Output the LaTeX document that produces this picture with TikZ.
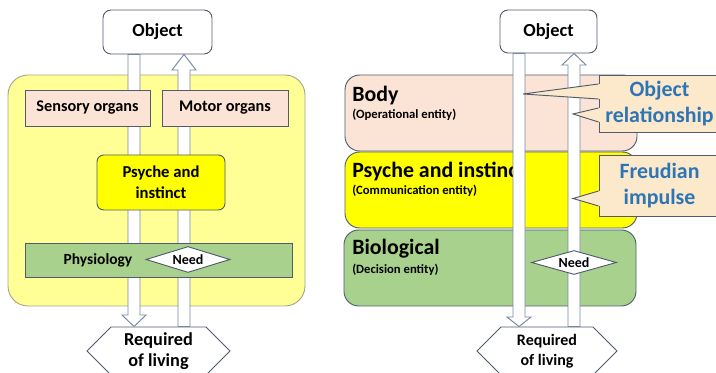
\documentclass[tikz,border=0pt]{standalone}
\usepackage{fontspec}
\setmainfont{Carlito}
\usetikzlibrary{shapes.geometric,shapes.symbols}

\definecolor{lineC}{RGB}{80,92,110}
\definecolor{frameC}{RGB}{165,165,140}
\definecolor{bgYellow}{RGB}{255,255,150}
\definecolor{pinkC}{RGB}{251,228,213}
\definecolor{greenC}{RGB}{169,209,142}
\definecolor{yellowC}{RGB}{255,255,0}
\definecolor{calloutC}{RGB}{252,232,202}
\definecolor{blueT}{RGB}{46,117,182}
\definecolor{arrowC}{RGB}{120,135,160}

\tikzset{
  box/.style={draw=lineC, line width=0.7pt, inner sep=0pt},
  blockarrow/.style={draw=arrowC, fill=white, line width=0.7pt, line join=miter},
  needbox/.style={shape=diamond, draw=lineC, fill=white, line width=0.7pt, inner sep=0pt, aspect=3.2,
    font=\bfseries\fontsize{10.5}{12}\selectfont},
  livingbox/.style={shape=signal, signal to=west and east, signal pointer angle=90, draw=lineC,
    fill=white, line width=0.7pt, inner sep=0pt, align=center},
  layertitle/.style={anchor=west, inner sep=0pt, font=\bfseries\fontsize{16.4}{18}\selectfont},
  layersub/.style={anchor=west, inner sep=0pt, font=\bfseries\fontsize{9.5}{11}\selectfont},
  callout/.style={draw=lineC, fill=calloutC, line width=0.7pt, inner sep=0pt, align=center,
    text=blueT, font=\bfseries\fontsize{16.4}{20}\selectfont},
}

\begin{document}
\begin{tikzpicture}[x=0.75pt,y=0.75pt,yscale=-1,xscale=1]
\useasboundingbox (0,0) rectangle (716,373);
\clip (0,0) rectangle (716,373);

%%%%% left diagram

% Yellow frame
\node[box, draw=frameC, fill=bgYellow, rounded corners=15pt, minimum width=222.75pt, minimum height=173.25pt] (frameL) at (156.5,190.5) {};
% Object
\node[box, fill=white, rounded corners=6pt, minimum width=81.75pt, minimum height=33pt,
  font=\bfseries\fontsize{13.8}{16}\selectfont] (objL) at (157.5,32) {Object};
% Required of living
\node[livingbox, minimum width=107.25pt, minimum height=36pt,
  font=\bfseries\fontsize{13.7}{16}\selectfont] (reqL) at (158.5,351) {Required\\of living};

% Down Arrow
\draw[blockarrow] (128,0 |- objL.south) -- (128,315) -- (122,315) -- (134,0 |- reqL.north)
  -- (146,315) -- (140,315) -- (140,0 |- objL.south) -- cycle;
% Up Arrow
\draw[blockarrow] (178,0 |- reqL.north) -- (178,70) -- (172,70) -- (184,0 |- objL.south)
  -- (196,70) -- (190,70) -- (190,0 |- reqL.north) -- cycle;

% Organs
\node[box, fill=pinkC, minimum width=93.75pt, minimum height=27pt,
  font=\bfseries\fontsize{12.2}{14}\selectfont] (sensory) at (87.5,108) {Sensory organs};
\node[box, fill=pinkC, minimum width=94.5pt, minimum height=27pt,
  font=\bfseries\fontsize{12.2}{14}\selectfont] (motor) at (225,108) {Motor organs};
% Psyche and instinct
\node[box, fill=yellowC, rounded corners=5pt, minimum width=96pt, minimum height=41.25pt, align=center,
  font=\bfseries\fontsize{12.5}{15.75}\selectfont] (psycheL) at (161,182.5) {Psyche and\\instinct};
% Physiology
\node[box, fill=greenC, minimum width=200.25pt, minimum height=25.5pt] (physio) at (158.5,260) {};
\node[inner sep=0pt, font=\bfseries\fontsize{11.6}{13}\selectfont] (physioT) at (98,260) {Physiology};
\node[needbox, minimum width=63pt, minimum height=19.5pt] (needL) at (188,259.5) {Need};

%%%%% right diagram

% Layers
\node[box, fill=pinkC, rounded corners=11pt, minimum width=219pt, minimum height=57pt] (body) at (491,113) {};
\node[box, fill=yellowC, rounded corners=11pt, minimum width=219pt, minimum height=57pt] (psycheR) at (491,190) {};
\node[box, fill=greenC, rounded corners=11pt, minimum width=219pt, minimum height=57pt] (bio) at (490,268) {};

% Text Node
\node[layertitle] (bodyT) at (352,96) {Body};
\node[layersub] (bodyS) at (352,115) {(Operational entity)};
\node[layertitle] (psycheT) at (352,172) {Psyche and instinct};
\node[layersub] (psycheS) at (352,191) {(Communication entity)};
\node[layertitle] (bioT) at (352,249) {Biological};
\node[layersub] (bioS) at (352,270) {(Decision entity)};

% Object
\node[box, fill=white, rounded corners=6pt, minimum width=72.75pt, minimum height=32.25pt,
  font=\bfseries\fontsize{13.8}{16}\selectfont] (objR) at (548.5,31.5) {Object};
% Required of living
\node[livingbox, minimum width=105pt, minimum height=36pt,
  font=\bfseries\fontsize{12}{15}\selectfont] (reqR) at (547,351) {Required\\of living};

% Down Arrow
\draw[blockarrow] (513,0 |- objR.south) -- (513,317) -- (507,317) -- (519,0 |- reqR.north)
  -- (531,317) -- (525,317) -- (525,0 |- objR.south) -- cycle;
% Up Arrow
\draw[blockarrow] (568,0 |- reqR.north) -- (568,65) -- (562,65) -- (574,0 |- objR.south)
  -- (586,65) -- (580,65) -- (580,0 |- reqR.north) -- cycle;

\node[needbox, minimum width=63.75pt, minimum height=18pt] (needR) at (574,262.5) {Need};

% Callouts
\node[callout, minimum width=90.75pt, minimum height=42.75pt] (objrel) at (659.5,103.5) {Object\\relationship};
\node[callout, minimum width=90.75pt, minimum height=45.75pt] (freud) at (659.5,185.5) {Freudian\\impulse};

\coordinate (tipA) at (523,94);
\coordinate (tipB) at (573,114);
\coordinate (tipC) at (573,198.5);
\fill[calloutC] ([xshift=1pt]objrel.west |- 0,84) -- (tipA) -- ([xshift=1pt]objrel.west |- 0,99) -- cycle;
\draw[lineC, line width=0.7pt] (objrel.west |- 0,84) -- (tipA) -- (objrel.west |- 0,99);
\fill[calloutC] ([xshift=1pt]objrel.west |- 0,108) -- (tipB) -- ([xshift=1pt]objrel.west |- 0,122) -- cycle;
\draw[lineC, line width=0.7pt] (objrel.west |- 0,108) -- (tipB) -- (objrel.west |- 0,122);
\fill[calloutC] ([xshift=1pt]freud.west |- 0,191) -- (tipC) -- ([xshift=1pt]freud.west |- 0,206) -- cycle;
\draw[lineC, line width=0.7pt] (freud.west |- 0,191) -- (tipC) -- (freud.west |- 0,206);

\end{tikzpicture}
\end{document}
